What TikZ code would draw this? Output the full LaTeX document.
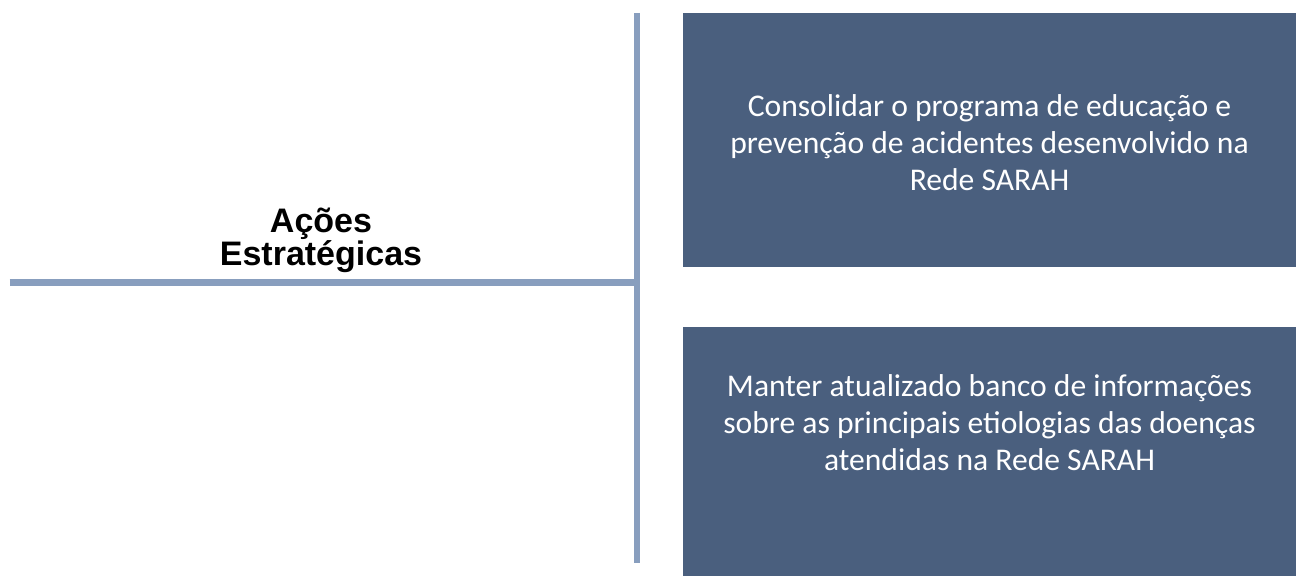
\documentclass[tikz,border=0pt]{standalone}
\usepackage{fontspec}
\setmainfont{Carlito}
\newfontfamily\headfont{Liberation Sans}
\usetikzlibrary{positioning}
\definecolor{boxblue}{HTML}{4A5F7E}
\definecolor{lineblue}{HTML}{889EBE}
\tikzset{
    actionbox/.style={fill=boxblue, inner sep=0pt, minimum width=613pt, anchor=north west},
    actiontext/.style={text=white, align=center, inner sep=0pt, font=\fontsize{31.6}{37}\selectfont},
    trunk/.style={draw=lineblue, line width=6.5pt},
    headtext/.style={align=center, inner sep=0pt, font=\headfont\bfseries\fontsize{34}{31}\selectfont}
}

\begin{document}
\begin{tikzpicture}[x=1pt,y=1pt]
    \useasboundingbox (0,0) rectangle (1296,576);
    \coordinate (top) at (637,563);
    \coordinate (bottom) at (637,13);
    \coordinate (left) at (9.5,293);
    \coordinate (joint) at (637,293);
    \draw [trunk] (top) -- (bottom);
    \draw [trunk, line width=7pt] (left) -- (joint);
    \node [actionbox, minimum height=254pt] (box1) at (683,563) {};
    \node [actionbox, minimum height=249pt] (box2) at (683,249) {};
    \node [actiontext] (text1) at (989.5,433) {Consolidar o programa de educação e\\prevenção de acidentes desenvolvido na\\Rede SARAH};
    \node [actiontext] (text2) at (989.5,153.5) {Manter atualizado banco de informações\\sobre as principais etiologias das doenças\\atendidas na Rede SARAH};
    \node [headtext] (title) at (321,335.5) {Ações\\Estratégicas};
\end{tikzpicture}
\end{document}
